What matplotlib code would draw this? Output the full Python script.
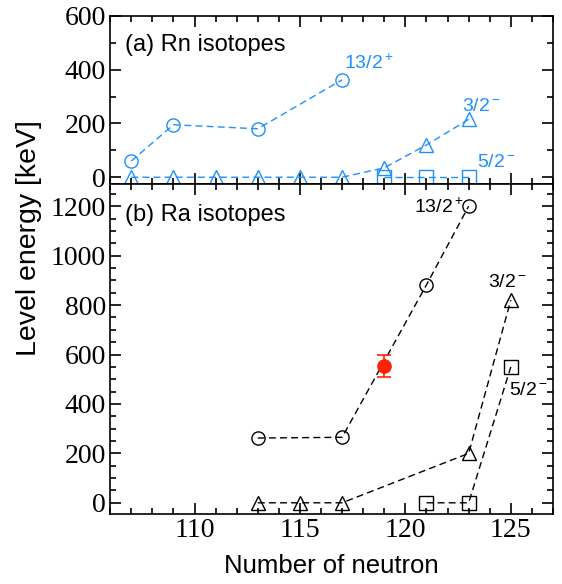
import numpy as np
import matplotlib.pyplot as plt
from matplotlib.ticker import MultipleLocator

plt.rcParams['font.family'] = 'serif'
plt.rcParams['font.serif'] = ['Liberation Serif', 'DejaVu Serif']
plt.rcParams['mathtext.fontset'] = 'custom'
plt.rcParams['mathtext.rm'] = 'Liberation Sans'
plt.rcParams['mathtext.it'] = 'Liberation Sans'
plt.rcParams['axes.linewidth'] = 1.2

blue = '#1E90FF'

# (a) Rn isotopes
rn_13_n = [107, 109, 113, 117]
rn_13_e = [60, 195, 180, 362]
rn_3_n = [107, 109, 111, 113, 115, 117, 119, 121, 123]
rn_3_e = [0, 0, 0, 0, 0, 0, 35, 120, 215]
rn_5_n = [119, 121, 123]
rn_5_e = [0, 0, 0]

# (b) Ra isotopes
ra_13_n = [113, 117, 121, 123]
ra_13_e = [262, 265, 882, 1200]
ra_3_n = [113, 115, 117, 123, 125]
ra_3_e = [0, 0, 0, 200, 820]
ra_5_n = [121, 123, 125]
ra_5_e = [0, 0, 550]

# experimental point
exp_n = [119]
exp_e = [553]
exp_err = [45]

fig = plt.figure(figsize=(5.62, 5.84), dpi=100)
ax1 = fig.add_axes([0.196, 0.685, 0.788, 0.288])
ax2 = fig.add_axes([0.196, 0.120, 0.788, 0.565])

mk = dict(markersize=9.5, markerfacecolor='none', markeredgewidth=1.0,
          linestyle='--', linewidth=1.0, dashes=(5, 3))

ax1.plot(rn_13_n, rn_13_e, marker='o', color=blue, **mk)
ax1.plot(rn_3_n, rn_3_e, marker='^', color=blue, **mk)
ax1.plot(rn_5_n, rn_5_e, marker='s', color=blue, **mk)

ax2.plot(ra_13_n, ra_13_e, marker='o', color='black', **mk)
ax2.plot(ra_3_n, ra_3_e, marker='^', color='black', **mk)
ax2.plot(ra_5_n, ra_5_e, marker='s', color='black', **mk)
ax2.errorbar(exp_n, exp_e, yerr=exp_err, fmt='o', color='#FF2200',
             markersize=9.5, capsize=5, elinewidth=1.2, capthick=1.2, zorder=5)

lab = dict(fontsize=14, family='Liberation Sans', va='center')
ax1.text(117.1, 425, r'13/2$^+$', color=blue, **lab)
ax1.text(122.7, 262, r'3/2$^-$', color=blue, **lab)
ax1.text(123.4, 55, r'5/2$^-$', color=blue, **lab)
ax1.text(106.7, 492, '(a) Rn isotopes', fontsize=17, family='Liberation Sans',
         va='center')

ax2.text(120.4, 1196, r'13/2$^+$', color='black', **lab)
ax2.text(123.9, 890, r'3/2$^-$', color='black', **lab)
ax2.text(124.9, 455, r'5/2$^-$', color='black', **lab)
ax2.text(106.7, 1163, '(b) Ra isotopes', fontsize=17, family='Liberation Sans',
         va='center')

ax1.set_ylim(-25, 600)
ax2.set_ylim(-45, 1290)
for ax in (ax1, ax2):
    ax.set_xlim(106, 127)
    ax.xaxis.set_major_locator(MultipleLocator(5))
    ax.xaxis.set_minor_locator(MultipleLocator(1))
    ax.yaxis.set_major_locator(MultipleLocator(200))
    ax.tick_params(which='both', direction='in', top=True, right=True)
    ax.tick_params(which='major', length=8, width=1.2, labelsize=20, pad=3)
    ax.tick_params(which='minor', length=4.5, width=1.2)
ax1.yaxis.set_minor_locator(MultipleLocator(100))
ax2.yaxis.set_minor_locator(MultipleLocator(50))
ax1.tick_params(labelbottom=False)
ax2.set_xticks([110, 115, 120, 125])

ax2.set_xlabel('Number of neutron', fontsize=18.5, family='Liberation Sans',
               labelpad=8)
fig.text(0.052, 0.592, 'Level energy [keV]', rotation=90, fontsize=20.5,
         family='Liberation Sans', ha='center', va='center')

fig.savefig('out.png', dpi=100)
